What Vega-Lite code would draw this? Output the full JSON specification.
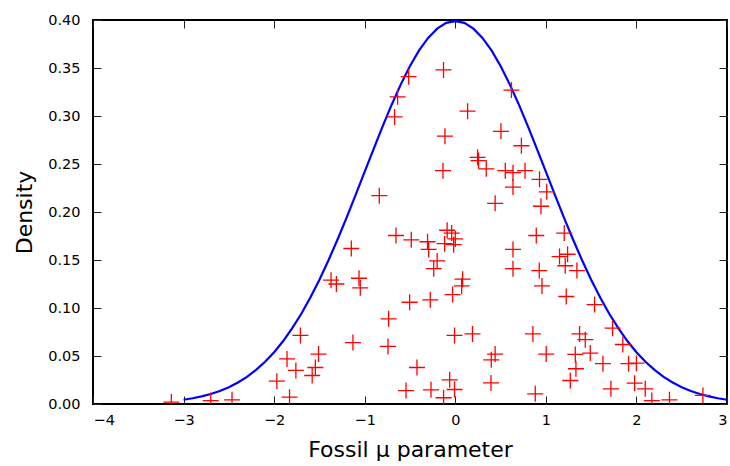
{
  "$schema": "https://vega.github.io/schema/vega-lite/v6.json",
  "width": 634,
  "height": 384,
  "autosize": {"type": "none"},
  "padding": {"left": 93, "top": 20, "right": 3, "bottom": 62},
  "background": "white",
  "config": {
    "font": "DejaVu Sans",
    "view": {"stroke": "black", "strokeWidth": 2},
    "axis": {
      "domain": false,
      "grid": false,
      "tickSize": -8,
      "tickColor": "#222222",
      "tickWidth": 1,
      "labelColor": "black",
      "labelFontSize": 14.5,
      "labelFont": "DejaVu Sans",
      "titleFont": "DejaVu Sans",
      "titleFontSize": 22,
      "titleFontWeight": "normal",
      "titleColor": "black"
    }
  },
  "datasets": {
    "curve": [
      {"x": -3.0, "d": 0.0044}, {"x": -2.9, "d": 0.0060}, {"x": -2.8, "d": 0.0079}, {"x": -2.7, "d": 0.0104},
      {"x": -2.6, "d": 0.0136}, {"x": -2.5, "d": 0.0175}, {"x": -2.4, "d": 0.0224}, {"x": -2.3, "d": 0.0283},
      {"x": -2.2, "d": 0.0355}, {"x": -2.1, "d": 0.0440}, {"x": -2.0, "d": 0.0540}, {"x": -1.9, "d": 0.0656},
      {"x": -1.8, "d": 0.0790}, {"x": -1.7, "d": 0.0940}, {"x": -1.6, "d": 0.1109}, {"x": -1.5, "d": 0.1295},
      {"x": -1.4, "d": 0.1497}, {"x": -1.3, "d": 0.1714}, {"x": -1.2, "d": 0.1942}, {"x": -1.1, "d": 0.2179},
      {"x": -1.0, "d": 0.2420}, {"x": -0.9, "d": 0.2661}, {"x": -0.8, "d": 0.2897}, {"x": -0.7, "d": 0.3123},
      {"x": -0.6, "d": 0.3332}, {"x": -0.5, "d": 0.3521}, {"x": -0.4, "d": 0.3683}, {"x": -0.3, "d": 0.3814},
      {"x": -0.2, "d": 0.3910}, {"x": -0.1, "d": 0.3970}, {"x": 0.0, "d": 0.3989}, {"x": 0.1, "d": 0.3970},
      {"x": 0.2, "d": 0.3910}, {"x": 0.3, "d": 0.3814}, {"x": 0.4, "d": 0.3683}, {"x": 0.5, "d": 0.3521},
      {"x": 0.6, "d": 0.3332}, {"x": 0.7, "d": 0.3123}, {"x": 0.8, "d": 0.2897}, {"x": 0.9, "d": 0.2661},
      {"x": 1.0, "d": 0.2420}, {"x": 1.1, "d": 0.2179}, {"x": 1.2, "d": 0.1942}, {"x": 1.3, "d": 0.1714},
      {"x": 1.4, "d": 0.1497}, {"x": 1.5, "d": 0.1295}, {"x": 1.6, "d": 0.1109}, {"x": 1.7, "d": 0.0940},
      {"x": 1.8, "d": 0.0790}, {"x": 1.9, "d": 0.0656}, {"x": 2.0, "d": 0.0540}, {"x": 2.1, "d": 0.0440},
      {"x": 2.2, "d": 0.0355}, {"x": 2.3, "d": 0.0283}, {"x": 2.4, "d": 0.0224}, {"x": 2.5, "d": 0.0175},
      {"x": 2.6, "d": 0.0136}, {"x": 2.7, "d": 0.0104}, {"x": 2.8, "d": 0.0079}, {"x": 2.9, "d": 0.0060},
      {"x": 3.0, "d": 0.0044}
    ],
    "samples": [
      {"mu": -0.515, "density": 0.341}, {"mu": -0.13, "density": 0.348}, {"mu": -0.637, "density": 0.320},
      {"mu": -0.67, "density": 0.299}, {"mu": 0.136, "density": 0.305}, {"mu": 0.62, "density": 0.327},
      {"mu": -0.114, "density": 0.279}, {"mu": 0.504, "density": 0.284}, {"mu": 0.73, "density": 0.269},
      {"mu": 0.246, "density": 0.257}, {"mu": 0.257, "density": 0.2536}, {"mu": 0.342, "density": 0.245},
      {"mu": -0.136, "density": 0.243}, {"mu": 0.552, "density": 0.243}, {"mu": 0.637, "density": 0.241},
      {"mu": 0.77, "density": 0.243}, {"mu": 0.637, "density": 0.226}, {"mu": -0.839, "density": 0.217},
      {"mu": 0.44, "density": 0.209}, {"mu": 0.93, "density": 0.234}, {"mu": 1.01, "density": 0.221},
      {"mu": 0.946, "density": 0.206}, {"mu": -0.655, "density": 0.1755}, {"mu": -0.486, "density": 0.171},
      {"mu": -0.306, "density": 0.169}, {"mu": -0.294, "density": 0.161}, {"mu": -0.09, "density": 0.181},
      {"mu": -0.04, "density": 0.178}, {"mu": 0.0, "density": 0.172}, {"mu": -0.118, "density": 0.167},
      {"mu": -0.018, "density": 0.166}, {"mu": -1.148, "density": 0.162}, {"mu": 0.637, "density": 0.161},
      {"mu": 0.637, "density": 0.141}, {"mu": -0.2, "density": 0.149}, {"mu": -0.238, "density": 0.141},
      {"mu": -1.372, "density": 0.129}, {"mu": -1.313, "density": 0.125}, {"mu": -1.063, "density": 0.131},
      {"mu": -1.049, "density": 0.121}, {"mu": 0.081, "density": 0.130}, {"mu": 0.07, "density": 0.123},
      {"mu": -0.03, "density": 0.114}, {"mu": -0.504, "density": 0.106}, {"mu": -0.276, "density": 0.1085},
      {"mu": -0.736, "density": 0.0887}, {"mu": -1.71, "density": 0.0714}, {"mu": -1.13, "density": 0.064},
      {"mu": -0.743, "density": 0.060}, {"mu": -0.008, "density": 0.0714}, {"mu": 0.19, "density": 0.073},
      {"mu": -1.51, "density": 0.052}, {"mu": -1.545, "density": 0.038}, {"mu": -1.58, "density": 0.0297},
      {"mu": -1.858, "density": 0.047}, {"mu": -1.76, "density": 0.035}, {"mu": -1.97, "density": 0.0238},
      {"mu": -1.83, "density": 0.0071}, {"mu": -3.135, "density": 0.002}, {"mu": -2.70, "density": 0.0036},
      {"mu": -2.465, "density": 0.0044}, {"mu": -0.423, "density": 0.038}, {"mu": 0.44, "density": 0.052},
      {"mu": 0.397, "density": 0.046}, {"mu": 0.394, "density": 0.022}, {"mu": -0.062, "density": 0.0252},
      {"mu": -0.008, "density": 0.0151}, {"mu": -0.268, "density": 0.0148}, {"mu": -0.129, "density": 0.0065},
      {"mu": -0.544, "density": 0.014}, {"mu": 0.894, "density": 0.1755}, {"mu": 1.203, "density": 0.178},
      {"mu": 1.151, "density": 0.1536}, {"mu": 1.24, "density": 0.156}, {"mu": 1.214, "density": 0.144},
      {"mu": 1.343, "density": 0.139}, {"mu": 0.927, "density": 0.139}, {"mu": 0.957, "density": 0.123},
      {"mu": 1.225, "density": 0.112}, {"mu": 1.538, "density": 0.1036}, {"mu": 1.737, "density": 0.079},
      {"mu": 1.372, "density": 0.073}, {"mu": 1.435, "density": 0.067}, {"mu": 1.85, "density": 0.062},
      {"mu": 0.857, "density": 0.073}, {"mu": 1.004, "density": 0.052}, {"mu": 1.325, "density": 0.0516},
      {"mu": 1.49, "density": 0.053}, {"mu": 1.63, "density": 0.042}, {"mu": 1.913, "density": 0.042},
      {"mu": 2.0, "density": 0.0425}, {"mu": 1.332, "density": 0.0367}, {"mu": 1.27, "density": 0.0245},
      {"mu": 1.98, "density": 0.0217}, {"mu": 2.097, "density": 0.0158}, {"mu": 1.718, "density": 0.0158},
      {"mu": 0.883, "density": 0.0106}, {"mu": 2.17, "density": 0.0036}, {"mu": 2.365, "density": 0.0044},
      {"mu": 2.734, "density": 0.0089}
    ]
  },
  "layer": [
    {
      "data": {"name": "curve"},
      "mark": {"type": "line", "color": "#0000ff", "strokeWidth": 2.2, "clip": true},
      "encoding": {
        "x": {
          "field": "x", "type": "quantitative",
          "scale": {"domain": [-4, 3], "nice": false, "zero": false},
          "axis": {"orient": "bottom", "values": [-4, -3, -2, -1, 0, 1, 2, 3], "format": "d", "labelPadding": 17, "title": "Fossil μ parameter", "titlePadding": 13}
        },
        "y": {
          "field": "d", "type": "quantitative",
          "scale": {"domain": [0, 0.4], "nice": false, "zero": false},
          "axis": {"orient": "left", "values": [0, 0.05, 0.1, 0.15, 0.2, 0.25, 0.3, 0.35, 0.4], "format": ".2f", "labelPadding": 21, "title": "Density", "titlePadding": 11}
        }
      }
    },
    {
      "data": {"name": "samples"},
      "mark": {"type": "point", "shape": "M-1,0L1,0M0,-1L0,1", "filled": false, "stroke": "#ff0000", "strokeWidth": 1.3, "size": 256, "opacity": 1, "clip": true},
      "encoding": {
        "x": {
          "field": "mu", "type": "quantitative",
          "scale": {"domain": [-4, 3], "nice": false, "zero": false},
          "axis": {"orient": "top", "values": [-4, -3, -2, -1, 0, 1, 2, 3], "labels": false, "title": null}
        },
        "y": {
          "field": "density", "type": "quantitative",
          "scale": {"domain": [0, 0.4], "nice": false, "zero": false},
          "axis": {"orient": "right", "values": [0, 0.05, 0.1, 0.15, 0.2, 0.25, 0.3, 0.35, 0.4], "labels": false, "title": null}
        }
      }
    }
  ],
  "resolve": {"axis": {"x": "independent", "y": "independent"}}
}
